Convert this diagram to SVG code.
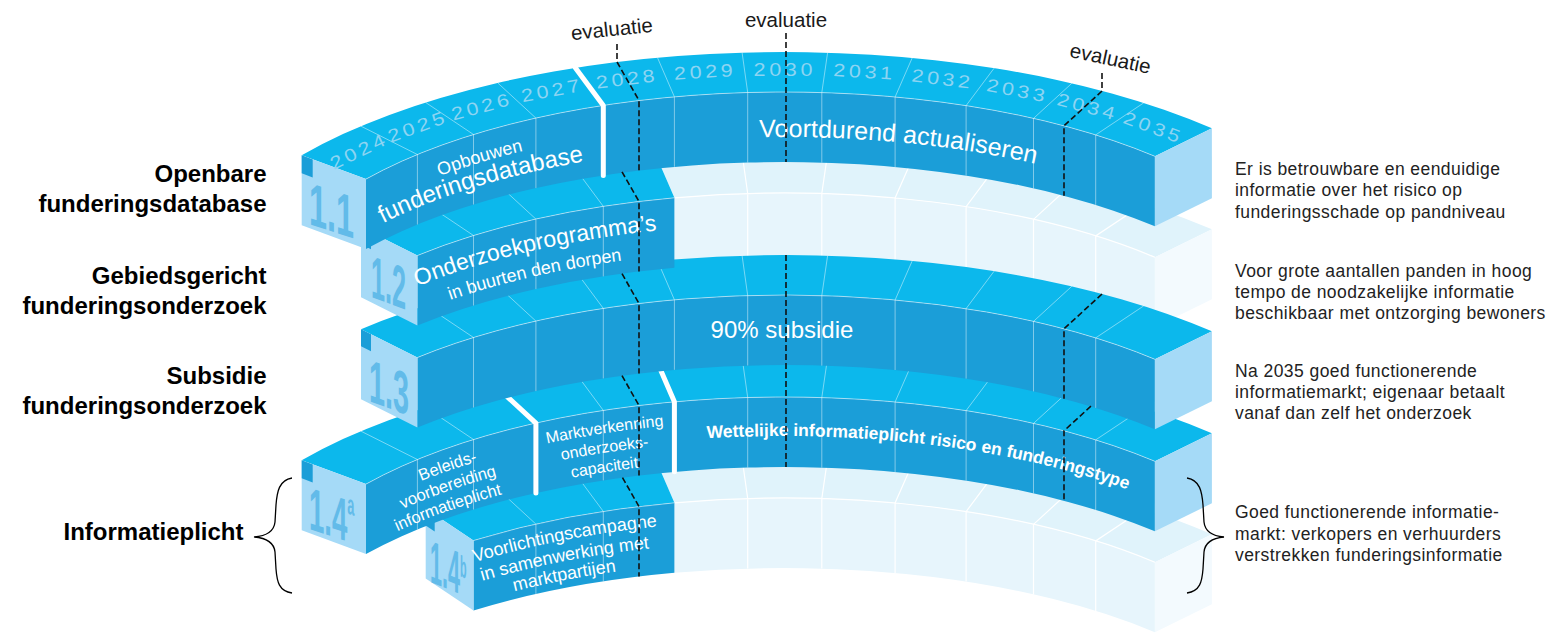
<svg xmlns="http://www.w3.org/2000/svg" width="1548" height="636" viewBox="0 0 1548 636">
<defs>
<style>
.top{fill:#0cb8ec}
.front{fill:#1b9ed8}
.cap{fill:#a5daf7}
.mark{fill:#1b9ed8}
.ftop{fill:#e0f3fb}
.ffront{fill:#e7f5fc}
.fcap{fill:#f3fafe}
.div{fill:none;stroke:#ffffff;stroke-opacity:.45;stroke-width:1}
.fdiv{fill:none;stroke:#ffffff;stroke-width:1.2}
.edge{fill:none;stroke:#ffffff;stroke-opacity:.5;stroke-width:1}
.gap{fill:none;stroke:#ffffff;stroke-width:5;stroke-linecap:round;stroke-linejoin:round}
.dash{fill:none;stroke:#111111;stroke-width:1.6;stroke-dasharray:6 3}
.yr{font-family:"Liberation Sans",Arial,sans-serif;font-size:18px;fill:#8dd4f2;letter-spacing:3px;text-anchor:middle}
.num{font-family:"Liberation Sans",Arial,sans-serif;font-weight:bold;font-size:60px;fill:#62bbe9}
.bt{font-family:"Liberation Sans",Arial,sans-serif;fill:#ffffff}
.lbl{font-family:"Liberation Sans",Arial,sans-serif;font-weight:bold;font-size:24px;fill:#000000;text-anchor:end}
.desc{font-family:"Liberation Sans",Arial,sans-serif;font-size:17.5px;letter-spacing:.43px;fill:#222222}
.eval{font-family:"Liberation Sans",Arial,sans-serif;font-size:20.5px;fill:#1a1a1a;text-anchor:middle}
.brace{fill:none;stroke:#000000;stroke-width:1.3}
</style>
<path id="pA" d="M331.0,201.5 A520 215 0 0 1 644.2,99.9"/>
<path id="pB" d="M717.9,93.7 A520 215 0 0 1 1075.6,129.0"/>
<path id="pC" d="M372.9,175.3 A520 215 0 0 1 706.2,94.4"/>
<path id="pD" d="M343.4,192.8 A520 215 0 0 1 562.6,112.5"/>
<path id="pE" d="M475.4,133.9 A520 215 0 0 1 737.8,92.9"/>
<path id="pF" d="M707.1,94.4 A520 215 0 0 1 1182.3,168.8"/>
<path id="pG" d="M439.4,146.0 A520 215 0 0 1 694.6,95.2"/>
</defs>

<!-- faded future parts (behind) -->
<g id="future-1.2" transform="translate(0,101)">
<path class="ftop" d="M657.5,57.7 A600 255 0 0 1 1211.9,128.3 L1154.9,156.3 A520 215 0 0 0 674.4,96.8 Z"/>
<path class="ffront" d="M674.4,96.8 A520 215 0 0 1 1154.9,156.3 V226.3 A520 215 0 0 0 674.4,166.8 Z"/>
<path class="fcap" d="M1154.9,156.3 L1211.9,128.3 V198.3 L1154.9,226.3 Z"/>
<path class="fdiv" d="M742.1,52.6 L747.7,92.5 V162.5 M827.6,52.7 L821.8,92.6 V162.6 M912.2,57.9 L895.1,97 V167 M994.1,68.2 L966.1,105.6 V175.6 M1071.8,83.3 L1033.5,118.4 V188.4 M1143.7,102.9 L1095.7,134.9 V204.9 M674.4,96.8 A520 215 0 0 1 1154.9,156.3"/>
</g>
<g id="future-1.4b" transform="translate(0,406)">
<path class="ftop" d="M657.5,57.7 A600 255 0 0 1 1211.9,128.3 L1154.9,156.3 A520 215 0 0 0 674.4,96.8 Z"/>
<path class="ffront" d="M674.4,96.8 A520 215 0 0 1 1154.9,156.3 V226.3 A520 215 0 0 0 674.4,166.8 Z"/>
<path class="fcap" d="M1154.9,156.3 L1211.9,128.3 V198.3 L1154.9,226.3 Z"/>
<path class="fdiv" d="M742.1,52.6 L747.7,92.5 V162.5 M827.6,52.7 L821.8,92.6 V162.6 M912.2,57.9 L895.1,97 V167 M994.1,68.2 L966.1,105.6 V175.6 M1071.8,83.3 L1033.5,118.4 V188.4 M1143.7,102.9 L1095.7,134.9 V204.9 M674.4,96.8 A520 215 0 0 1 1154.9,156.3"/>
</g>

<!-- node 1.4b -->
<g id="node-1.4b" transform="translate(0,406)">
<path class="top" d="M425.7,102.5 A600 255 0 0 1 657.5,57.7 L674.4,96.8 A520 215 0 0 0 473.5,134.5 Z"/>
<path class="front" d="M473.5,134.5 A520 215 0 0 1 674.4,96.8 V166.8 A520 215 0 0 0 473.5,204.5 Z"/>
<path class="cap" d="M425.7,102.5 L473.5,134.5 V204.5 L425.7,172.5 Z"/>
<path class="mark" d="M425.7,102.5 L434.7,108.5 V125.5 L425.7,119.5 Z"/>
<path class="edge" d="M473.5,134.5 A520 215 0 0 1 674.4,96.8"/>
<path class="div" d="M497.7,82.9 L535.9,118.1 V188.1 M575.5,67.9 L603.3,105.4 V175.4"/>
<text class="num" transform="translate(430,176) skewY(22) scale(0.36,1)">1.4<tspan font-size="30" dy="-18">b</tspan></text>
<g class="bt" font-size="18" text-anchor="middle">
<text transform="translate(0,22)"><textPath href="#pG" startOffset="50%">Voorlichtingscampagne</textPath></text>
<text transform="translate(0,43)"><textPath href="#pG" startOffset="50%">in samenwerking met</textPath></text>
<text transform="translate(0,62)"><textPath href="#pG" startOffset="50%">marktpartijen</textPath></text>
</g>
</g>

<!-- node 1.4a -->
<g id="node-1.4a" transform="translate(0,305)">
<path class="top" d="M301.7,155.3 A600 255 0 0 1 1211.9,128.3 L1154.9,156.3 A520 215 0 0 0 366,179.1 Z"/>
<path class="front" d="M366,179.1 A520 215 0 0 1 1154.9,156.3 V226.3 A520 215 0 0 0 366,249.1 Z"/>
<path class="cap" d="M301.7,155.3 L366,179.1 V249.1 L301.7,225.3 Z"/>
<path class="cap" d="M1154.9,156.3 L1211.9,128.3 V198.3 L1154.9,226.3 Z"/>
<path class="mark" d="M301.7,155.3 L312.7,159.4 V177.4 L301.7,173.3 Z"/>
<path class="edge" d="M366,179.1 A520 215 0 0 1 1154.9,156.3"/>
<path class="div" d="M361,126.2 L417.4,154.5 V224.5 M425.7,102.5 L473.5,134.5 V204.5 M575.5,67.9 L603.3,105.4 V175.4 M742.1,52.6 L747.7,92.5 V162.5 M827.6,52.7 L821.8,92.6 V162.6 M912.2,57.9 L895.1,97 V167 M994.1,68.2 L966.1,105.6 V175.6 M1071.8,83.3 L1033.5,118.4 V188.4 M1143.7,102.9 L1095.7,134.9 V204.9"/>
<path class="gap" d="M497.7,82.9 L535.9,118.1 V188.1 M657.5,57.7 L674.4,96.8 V166.8"/>
<text class="num" transform="translate(309,224) skewY(18) scale(0.46,1)">1.4<tspan font-size="28" dy="-28">a</tspan></text>
<g class="bt" font-size="16.5" text-anchor="middle">
<text transform="translate(0,23)"><textPath href="#pD" startOffset="50%">Beleids-</textPath></text>
<text transform="translate(0,43)"><textPath href="#pD" startOffset="50%">voorbereiding</textPath></text>
<text transform="translate(0,63)"><textPath href="#pD" startOffset="50%">informatieplicht</textPath></text>
</g>
<g class="bt" font-size="16" text-anchor="middle">
<text transform="translate(0,23)"><textPath href="#pE" startOffset="50%">Marktverkenning</textPath></text>
<text transform="translate(0,42.5)"><textPath href="#pE" startOffset="50%">onderzoeks-</textPath></text>
<text transform="translate(0,62)"><textPath href="#pE" startOffset="50%">capaciteit</textPath></text>
</g>
<text class="bt" font-size="17.5" font-weight="bold" transform="translate(0,39)"><textPath href="#pF">Wettelijke informatieplicht risico en funderingstype</textPath></text>
</g>

<!-- node 1.3 -->
<g id="node-1.3" transform="translate(0,203)">
<path class="top" d="M361,126.2 A600 255 0 0 1 1211.9,128.3 L1154.9,156.3 A520 215 0 0 0 417.4,154.5 Z"/>
<path class="front" d="M417.4,154.5 A520 215 0 0 1 1154.9,156.3 V226.3 A520 215 0 0 0 417.4,224.5 Z"/>
<path class="cap" d="M361,126.2 L417.4,154.5 V224.5 L361,196.2 Z"/>
<path class="cap" d="M1154.9,156.3 L1211.9,128.3 V198.3 L1154.9,226.3 Z"/>
<path class="mark" d="M361,126.2 L371,131.2 V148.2 L361,143.2 Z"/>
<path class="edge" d="M417.4,154.5 A520 215 0 0 1 1154.9,156.3"/>
<path class="div" d="M425.7,102.5 L473.5,134.5 V204.5 M497.7,82.9 L535.9,118.1 V188.1 M575.5,67.9 L603.3,105.4 V175.4 M657.5,57.7 L674.4,96.8 V166.8 M742.1,52.6 L747.7,92.5 V162.5 M827.6,52.7 L821.8,92.6 V162.6 M912.2,57.9 L895.1,97 V167 M994.1,68.2 L966.1,105.6 V175.6 M1071.8,83.3 L1033.5,118.4 V188.4 M1143.7,102.9 L1095.7,134.9 V204.9"/>
<text class="num" transform="translate(369,198) skewY(20) scale(0.48,1)">1.3</text>
<text class="bt" font-size="24" x="782" y="135" text-anchor="middle">90% subsidie</text>
</g>

<!-- node 1.2 -->
<g id="node-1.2" transform="translate(0,101)">
<path class="top" d="M361,126.2 A600 255 0 0 1 657.5,57.7 L674.4,96.8 A520 215 0 0 0 417.4,154.5 Z"/>
<path class="front" d="M417.4,154.5 A520 215 0 0 1 674.4,96.8 V166.8 A520 215 0 0 0 417.4,224.5 Z"/>
<path class="cap" d="M361,126.2 L417.4,154.5 V224.5 L361,196.2 Z"/>
<path class="mark" d="M361,126.2 L371,131.2 V148.2 L361,143.2 Z"/>
<path class="edge" d="M417.4,154.5 A520 215 0 0 1 674.4,96.8"/>
<path class="div" d="M425.7,102.5 L473.5,134.5 V204.5 M497.7,82.9 L535.9,118.1 V188.1 M575.5,67.9 L603.3,105.4 V175.4"/>
<text class="num" transform="translate(371,196) skewY(20) scale(0.42,1)">1.2</text>
<g class="bt" text-anchor="middle">
<text font-size="23" transform="translate(0,31)"><textPath href="#pC" startOffset="50%">Onderzoekprogramma’s</textPath></text>
<text font-size="18" transform="translate(0,57)"><textPath href="#pC" startOffset="50%">in buurten den dorpen</textPath></text>
</g>
</g>

<!-- node 1.1 -->
<g id="node-1.1">
<path class="top" d="M301.7,155.3 A600 255 0 0 1 1211.9,128.3 L1154.9,156.3 A520 215 0 0 0 366,179.1 Z"/>
<path class="front" d="M366,179.1 A520 215 0 0 1 1154.9,156.3 V226.3 A520 215 0 0 0 366,249.1 Z"/>
<path class="cap" d="M301.7,155.3 L366,179.1 V249.1 L301.7,225.3 Z"/>
<path class="cap" d="M1154.9,156.3 L1211.9,128.3 V198.3 L1154.9,226.3 Z"/>
<path class="mark" d="M301.7,155.3 L312.7,159.4 V177.4 L301.7,173.3 Z"/>
<path class="edge" d="M366,179.1 A520 215 0 0 1 1154.9,156.3"/>
<path class="div" d="M361,126.2 L417.4,154.5 V224.5 M425.7,102.5 L473.5,134.5 V204.5 M497.7,82.9 L535.9,118.1 V188.1 M657.5,57.7 L674.4,96.8 V166.8 M742.1,52.6 L747.7,92.5 V162.5 M827.6,52.7 L821.8,92.6 V162.6 M912.2,57.9 L895.1,97 V167 M994.1,68.2 L966.1,105.6 V175.6 M1071.8,83.3 L1033.5,118.4 V188.4 M1143.7,102.9 L1095.7,134.9 V204.9"/>
<path class="gap" d="M575.5,67.9 L603.3,105.4 V175.4"/>
<g class="yr">
<text transform="translate(360.3,153.3) rotate(-25.9) scale(1.2,1)" y="3.5">2024</text>
<text transform="translate(418.6,128.9) rotate(-19.9) scale(1.2,1)" y="3.5">2025</text>
<text transform="translate(482.4,109) rotate(-15) scale(1.2,1)" y="3.5">2026</text>
<text transform="translate(552.4,93) rotate(-10.8) scale(1.2,1)" y="3.5">2027</text>
<text transform="translate(627.3,81.4) rotate(-7) scale(1.2,1)" y="3.5">2028</text>
<text transform="translate(705.3,74.3) rotate(-3.4) scale(1.2,1)" y="3.5">2029</text>
<text transform="translate(784.8,72) scale(1.2,1)" y="3.5">2030</text>
<text transform="translate(864.4,74.4) rotate(3.5) scale(1.2,1)" y="3.5">2031</text>
<text transform="translate(942.3,81.6) rotate(7) scale(1.2,1)" y="3.5">2032</text>
<text transform="translate(1017,93.3) rotate(10.9) scale(1.2,1)" y="3.5">2033</text>
<text transform="translate(1087,109.4) rotate(15.1) scale(1.2,1)" y="3.5">2034</text>
<text transform="translate(1152.6,130.1) rotate(20.1) scale(1.2,1)" y="3.5">2035</text>
</g>
<text class="num" transform="translate(309,224) skewY(18) scale(0.54,1)">1.1</text>
<g class="bt" text-anchor="middle">
<text font-size="18" transform="translate(0,30)"><textPath href="#pA" startOffset="50%">Opbouwen</textPath></text>
<text font-size="24" transform="translate(0,53)"><textPath href="#pA" startOffset="50%">funderingsdatabase</textPath></text>
<text font-size="25" transform="translate(0,45)"><textPath href="#pB" startOffset="50%">Voortdurend actualiseren</textPath></text>
</g>
</g>

<!-- connectors: evaluation dashed lines -->
<g id="connectors" class="dash">
<path d="M617,44 V62 L639,100.5 V170.5"/>
<path d="M622,171.8 L639,201.5 V271.5"/>
<path d="M622,273.7 L639,303.5 V373.5"/>
<path d="M622,375.7 L639,405.5 V475.5"/>
<path d="M622.5,477.7 L639,506.5 V576.5"/>
<path d="M786,33 V162"/>
<path d="M786,255 V467"/>
<path d="M1102,73 V91 L1064,125.8 V195.8"/>
<path d="M1102,294 L1064,328.8 V398.8"/>
<path d="M1090.9,406.2 L1064,430.8 V500.8"/>
</g>

<g id="evaluation-labels" class="eval">
<text x="612.5" y="36" transform="rotate(-6 612.5 36)">evaluatie</text>
<text x="786" y="26.7">evaluatie</text>
<text x="1109" y="65.3" transform="rotate(12 1109 65.3)">evaluatie</text>
</g>

<g id="left-labels" class="lbl">
<text x="266.5" y="181.5">Openbare</text>
<text x="266.5" y="211.5">funderingsdatabase</text>
<text x="266.5" y="283.5">Gebiedsgericht</text>
<text x="266.5" y="313.5">funderingsonderzoek</text>
<text x="266.5" y="383.5">Subsidie</text>
<text x="266.5" y="413.5">funderingsonderzoek</text>
<text x="243.5" y="540">Informatieplicht</text>
</g>
<path id="brace-left" class="brace" d="M292,478 C279,480 277,492 276,505 L275,522 C274,532 266,536 254,537 C266,538 274,542 275,552 L276,569 C277,582 279,591 292,593"/>

<g id="right-labels" class="desc">
<text x="1235" y="175">Er is betrouwbare en eenduidige</text>
<text x="1235" y="196.3">informatie over het risico op</text>
<text x="1235" y="217.6">funderingsschade op pandniveau</text>
<text x="1235" y="276.5">Voor grote aantallen panden in hoog</text>
<text x="1235" y="297.8">tempo de noodzakelijke informatie</text>
<text x="1235" y="319">beschikbaar met ontzorging bewoners</text>
<text x="1235" y="376.5">Na 2035 goed functionerende</text>
<text x="1235" y="397.8">informatiemarkt; eigenaar betaalt</text>
<text x="1235" y="419">vanaf dan zelf het onderzoek</text>
<text x="1235" y="518.3">Goed functionerende informatie-</text>
<text x="1235" y="539.6">markt: verkopers en verhuurders</text>
<text x="1235" y="560.9">verstrekken funderingsinformatie</text>
</g>
<path id="brace-right" class="brace" d="M1187,478 C1200,480 1202,492 1203,505 L1204,522 C1205,532 1213,536 1224,537 C1213,538 1205,542 1204,552 L1203,569 C1202,582 1200,591 1187,593"/>
</svg>
